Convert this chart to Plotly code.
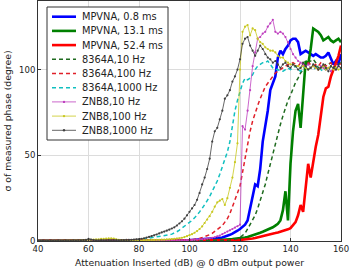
import plotly.graph_objects as go

atten = list(range(40, 161))

mpvna_08 = (
    [0.1] * 60
    + [0.5, 0.6, 0.7, 0.8, 0.9, 1.0, 1.1, 1.2, 1.3, 1.4]
    + [1.3, 1.5, 1.8, 2.1, 2.5, 3.0, 3.6, 4.3, 5.0, 6.0]
    + [7.0, 8.5, 9.5, 12, 19, 25, 33, 32, 42, 58]
    + [67, 76, 88, 92, 96, 107, 111, 109, 112, 114]
    + [117, 118, 118, 116, 109, 110, 111, 110, 109, 108]
    + [109, 108, 107, 107, 108, 110, 106, 103, 105, 103]
    + [109]
)
mpvna_131 = (
    [0.1] * 65
    + [0.3, 0.3, 0.4, 0.4, 0.5]
    + [0.5, 0.6, 0.6, 0.7, 0.8, 0.9, 1.0, 1.1, 1.2, 1.4]
    + [1.5, 1.7, 2.0, 2.4, 2.8, 3.3, 3.8, 4.3, 4.8, 5.4]
    + [6.0, 6.6, 7.3, 8.0, 9.0, 10, 12, 18, 29, 12]
    + [45, 64, 76, 80, 66, 88, 105, 103, 112, 124]
    + [123, 122, 120, 117, 118, 119, 117, 116, 117, 118]
    + [116]
)
mpvna_524 = (
    [0.1] * 70
    + [0.2, 0.2, 0.2, 0.3, 0.3, 0.3, 0.4, 0.4, 0.5, 0.5]
    + [0.6, 0.7, 0.8, 1.0, 1.2, 1.5, 1.8, 2.1, 2.5, 2.8]
    + [3.0, 3.4, 3.8, 4.2, 4.6, 5.0, 5.4, 5.8, 6.3, 6.8]
    + [7.5, 9, 11, 15, 21, 17, 33, 45, 37, 47]
    + [55, 62, 74, 84, 89, 90, 96, 100, 104, 108]
    + [114]
)
a8364_10 = (
    [0.1] * 75
    + [0.5, 0.6, 0.8, 1.0, 1.5]
    + [2, 3, 4.5, 7, 9.5, 12, 15, 19, 23.5, 28.5]
    + [33, 39, 45, 51, 57, 63, 68, 73, 78, 82]
    + [85, 89, 92.5, 95, 98, 100, 102, 104, 105, 106]
    + [104, 101, 101, 102, 103, 103, 104, 102, 101, 103]
    + [104]
)
a8364_100 = (
    [0.2] * 60
    + [0.5, 0.7, 0.9, 1.2, 1.5, 2.0, 2.5, 3.0, 3.7, 4.5]
    + [5.5, 6.5, 7.5, 9, 11, 13, 16, 20, 24, 28]
    + [32, 40, 48, 57, 64, 70, 75, 79, 83, 87]
    + [90, 92, 94, 96, 98, 99, 100, 101, 102, 103]
    + [103, 104, 103, 102, 104, 103, 102, 104, 103, 102]
    + [103, 102, 104, 103, 102, 103, 104, 102, 103, 104]
    + [103]
)
a8364_1000 = (
    [0.3] * 40
    + [0.8, 1.0, 1.2, 1.4, 1.6, 1.8, 2.0, 2.3, 2.6, 2.9]
    + [3.2, 3.4, 3.6, 4.0, 4.6, 5.4, 6.4, 7.5, 8.5, 9.8]
    + [11, 12, 13.5, 15, 17, 19, 21, 23.5, 26, 29]
    + [31.6, 35, 39, 43, 47, 52, 58, 68, 76, 82]
    + [87, 92, 95, 94, 95, 97, 100, 102, 103, 104]
    + [104, 105, 103, 101, 100, 100, 99, 99, 100, 101]
    + [100, 101, 102, 100, 99, 101, 102, 100, 101, 100]
    + [101, 102, 100, 99, 101, 100, 102, 101, 100, 101]
    + [100]
)
znb8_10 = (
    [0.2] * 40
    + [0.2, 0.2, 0.2, 0.2, 0.3, 0.3, 0.3, 0.3, 0.3, 0.3]
    + [0.3, 0.3, 0.3, 0.4, 0.4, 0.4, 0.4, 0.4, 0.5, 0.5]
    + [0.5, 0.6, 0.7, 0.8, 0.9, 1.0, 1.2, 1.4, 1.6, 1.9]
    + [2.2, 2.7, 3.2, 4.0, 4.8, 5.5, 6.2, 7.0, 7.8, 8.6]
    + [9.5, 67, 65, 76, 88, 102, 110, 118, 119, 121]
    + [122, 125, 127, 129, 122, 121, 122, 121, 119, 116]
    + [112, 109, 107, 105, 104, 103, 102, 103, 101, 102]
    + [101, 100, 102, 101, 100, 101, 99, 101, 100, 102]
    + [101]
)
znb8_100 = (
    [0.2, 0.2, 0.3, 0.2, 0.2, 0.3, 0.2, 0.2, 0.3, 0.2]
    + [0.2, 0.3, 0.2, 0.3, 0.2, 0.3, 0.3, 0.4, 0.4, 0.5]
    + [0.6, 0.7, 0.8, 0.9, 1.0, 1.2, 1.3, 1.4, 1.5, 1.6]
    + [1.4, 1.0, 0.7, 0.5, 0.4, 0.4, 0.3, 0.3, 0.4, 0.4]
    + [0.4, 0.4, 0.5, 0.5, 0.5, 0.6, 0.6, 0.7, 0.7, 0.8]
    + [0.8, 0.9, 1.0, 1.1, 1.2, 1.4, 1.6, 1.9, 2.3, 2.8]
    + [3.4, 4.0, 4.8, 5.8, 7.0, 8.5, 10.5, 12.5, 14.5, 17]
    + [20, 22.5, 23.5, 24.5, 21, 25, 31, 37, 46, 57]
    + [100, 122, 125, 126, 120, 124, 123, 118, 116, 115]
    + [113, 112, 111, 111, 110, 108, 107, 107, 105, 104]
    + [103, 103, 102, 102, 101, 102, 101, 100, 101, 102]
    + [101, 100, 101, 102, 100, 101, 102, 100, 101, 100]
    + [101]
)
znb8_1000 = (
    [0.3, 0.3, 0.4, 0.3, 0.3, 0.4, 0.3, 0.3, 0.4, 0.3]
    + [0.3, 0.4, 0.3, 0.3, 0.4, 0.3, 0.4, 0.4, 0.5, 0.6]
    + [1.2, 0.8, 0.5, 0.4, 0.4, 0.5, 0.4, 0.4, 0.5, 0.4]
    + [0.5, 0.5, 0.4, 0.5, 0.5, 0.6, 0.6, 0.7, 0.8, 0.9]
    + [1.0, 1.3, 1.6, 2.0, 2.4, 2.8, 3.3, 3.8, 4.4, 5.0]
    + [5.5, 6.0, 6.6, 7.3, 8.0, 9.0, 10.2, 11.5, 13.0, 15.0]
    + [17, 19, 21, 24, 28, 33, 37, 42, 48, 58]
    + [64, 66, 71, 76, 83, 85, 88, 93, 96, 100]
    + [106, 115, 118, 119, 114, 111, 108, 111, 114, 112]
    + [109, 107, 106, 104, 105, 103, 101, 103, 104, 102]
    + [101, 103, 102, 100, 101, 104, 102, 100, 101, 103]
    + [102, 100, 101, 103, 101, 99, 102, 101, 100, 102]
    + [101]
)

series_names = ["MPVNA, 0.8 ms", "MPVNA, 13.1 ms", "MPVNA, 52.4 ms",
                "8364A,10 Hz", "8364A,100 Hz", "8364A,1000 Hz",
                "ZNB8,10 Hz", "ZNB8,100 Hz", "ZNB8,1000 Hz"]
series_values = [mpvna_08, mpvna_131, mpvna_524,
                 a8364_10, a8364_100, a8364_1000,
                 znb8_10, znb8_100, znb8_1000]

styles = [
    ("#0000ff", 2.6, "solid", False),
    ("#008000", 2.6, "solid", False),
    ("#ff0000", 2.6, "solid", False),
    ("#1f6b1f", 1.5, "4px,3px", False),
    ("#e0202a", 1.5, "4px,3px", False),
    ("#10c0c0", 1.5, "4px,3px", False),
    ("#bf40bf", 0.8, "solid", True),
    ("#c8c820", 0.8, "solid", True),
    ("#404040", 0.8, "solid", True),
]

W, H = 350, 269
ML, MR, MT, MB = 38, 9, 1, 28
PW, PH = W - ML - MR, H - MT - MB


def px_x(px):
    return (px - ML) / PW


def px_y(py):
    return (H - MB - py) / PH


fig = go.Figure()
for name, ys, (color, width, dash, markers) in zip(series_names, series_values, styles):
    fig.add_trace(go.Scatter(
        x=atten, y=ys, name=name, showlegend=False,
        mode="lines+markers" if markers else "lines",
        line=dict(color=color, width=width, dash=dash),
        marker=dict(size=2.2, color=color) if markers else None,
    ))

font = "DejaVu Sans, sans-serif"

# legend drawn as a box with sample lines and labels (top-left, inside the axes)
shapes = [dict(type="rect", xref="paper", yref="paper", layer="above",
               x0=px_x(47), x1=px_x(168), y0=px_y(140), y1=px_y(7),
               fillcolor="white", line=dict(color="#333", width=1))]
annotations = []
for i, (name, (color, width, dash, markers)) in enumerate(zip(series_names, styles)):
    yc = 16.7 + i * 14.2
    shapes.append(dict(type="line", xref="paper", yref="paper", layer="above",
                       x0=px_x(52), x1=px_x(76), y0=px_y(yc), y1=px_y(yc),
                       line=dict(color=color, width=width, dash=dash)))
    if markers:
        shapes.append(dict(type="circle", xref="paper", yref="paper", layer="above",
                           x0=px_x(62.8), x1=px_x(65.2), y0=px_y(yc + 1.2), y1=px_y(yc - 1.2),
                           fillcolor=color, line=dict(width=0)))
    annotations.append(dict(xref="paper", yref="paper", x=px_x(80), y=px_y(yc),
                            xanchor="left", yanchor="middle", showarrow=False,
                            text=name, font=dict(size=9.8, color="#222", family=font)))

fig.update_layout(
    width=W, height=H,
    margin=dict(l=ML, r=MR, t=MT, b=MB, autoexpand=False),
    paper_bgcolor="white", plot_bgcolor="white",
    font=dict(family=font, size=8, color="#222"),
    showlegend=False,
    shapes=shapes, annotations=annotations,
)
fig.update_xaxes(
    range=[40, 160], tickvals=[40, 60, 80, 100, 120, 140, 160],
    showgrid=True, gridcolor="#dcdcdc", gridwidth=1,
    showline=True, linecolor="#333", linewidth=1, mirror=True,
    ticks="inside", ticklen=3, tickcolor="#333",
    zeroline=False, tickfont=dict(size=8.5),
    title=dict(text="Attenuation Inserted (dB) @ 0 dBm output power", standoff=6,
               font=dict(size=9.3)),
)
fig.update_yaxes(
    range=[0, 140], tickvals=[0, 50, 100],
    showgrid=True, gridcolor="#dcdcdc", gridwidth=1,
    showline=True, linecolor="#333", linewidth=1, mirror=True,
    ticks="inside", ticklen=3, tickcolor="#333",
    zeroline=False, tickfont=dict(size=8.5),
    title=dict(text="σ of measured phase (degree)", standoff=5, font=dict(size=9.3)),
)

fig.write_html("out.html", config={"displayModeBar": False},
               post_script="document.body.style.margin='0';")
